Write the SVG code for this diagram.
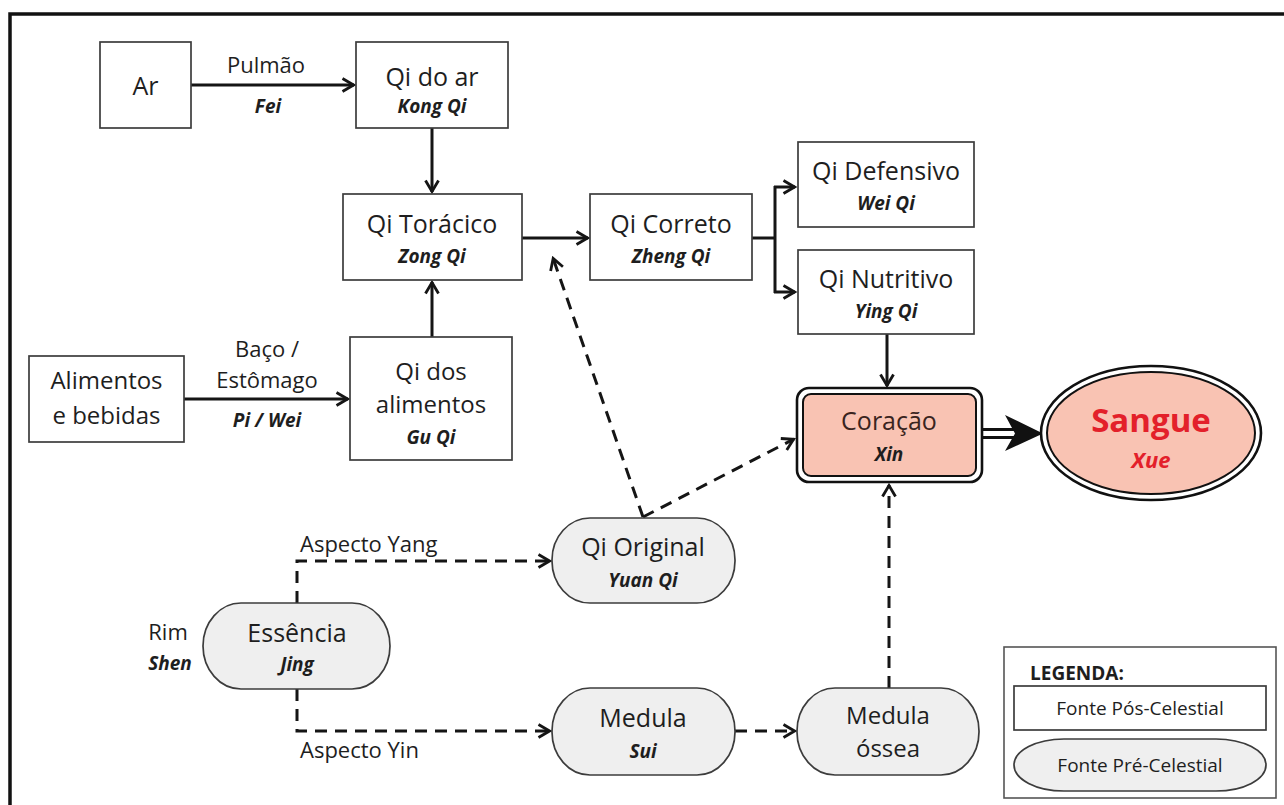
<svg xmlns="http://www.w3.org/2000/svg" width="1284" height="805" viewBox="0 0 1284 805">
<style>
text{font-family:'Open Sans','Liberation Sans',sans-serif;fill:#1e1e1e;text-anchor:middle}
.m{font-size:25px}
.m2{font-size:24px}
.l{font-size:22px}
.s{font-size:19px;font-weight:bold;font-style:italic}
.box{fill:#ffffff;stroke:#3c3c3c;stroke-width:1.7}
.pill{fill:#efefef;stroke:#3c3c3c;stroke-width:1.7}
.c{fill:none;stroke:#151515;stroke-width:3}
.d{fill:none;stroke:#151515;stroke-width:3;stroke-dasharray:12 8}
</style>
<defs>
<marker id="a" viewBox="0 0 16 16" refX="14" refY="8" markerWidth="16" markerHeight="16" markerUnits="userSpaceOnUse" orient="auto">
<path d="M2.5,1.5 L13.5,8 L2.5,14.5" fill="none" stroke="#151515" stroke-width="2.8" stroke-dasharray="none"/>
</marker>
</defs>
<rect width="1284" height="805" fill="#ffffff"/>
<path d="M10,805 V14 H1284" fill="none" stroke="#111" stroke-width="3.5"/>

<g id="connectors">
<path class="c" d="M191,85 H354" marker-end="url(#a)"/>
<path class="c" d="M432,128 V192" marker-end="url(#a)"/>
<path class="c" d="M432,337 V282" marker-end="url(#a)"/>
<path class="c" d="M184,399 H348" marker-end="url(#a)"/>
<path class="c" d="M522,238 H588" marker-end="url(#a)"/>
<path class="c" d="M752,238 H775"/>
<path class="c" d="M775,186 V293"/>
<path class="c" d="M774,187 H795" marker-end="url(#a)"/>
<path class="c" d="M774,292 H795" marker-end="url(#a)"/>
<path class="c" d="M887,334 V386" marker-end="url(#a)"/>
<path class="d" d="M643,517 L553,258" marker-end="url(#a)"/>
<path class="d" d="M643,517 L794,439" marker-end="url(#a)"/>
<path class="d" d="M297,603 V561 H550" marker-end="url(#a)"/>
<path class="d" d="M297,689 V731 H550" marker-end="url(#a)"/>
<path class="d" d="M735,731 H795" marker-end="url(#a)"/>
<path class="d" d="M889,688 V485" marker-end="url(#a)"/>
<path d="M982,429.5 H1014 M982,437.5 H1014" fill="none" stroke="#111" stroke-width="3"/>
<polygon points="1005,415 1043,433.5 1005,451 1015,433.5" fill="#111"/>
</g>

<g id="ar">
<rect class="box" x="100" y="42" width="91" height="86"/>
<text class="m" x="145.5" y="95">Ar</text>
</g>
<g id="label-pulmao">
<text class="l" x="266" y="73">Pulmão</text>
<text class="s" x="268" y="113">Fei</text>
</g>
<g id="qi-do-ar">
<rect class="box" x="356" y="42" width="152" height="86"/>
<text class="m" x="432" y="86">Qi do ar</text>
<text class="s" x="432" y="113">Kong Qi</text>
</g>
<g id="qi-toracico">
<rect class="box" x="343" y="194" width="179" height="86"/>
<text class="m" x="432" y="233">Qi Torácico</text>
<text class="s" x="432" y="263">Zong Qi</text>
</g>
<g id="qi-correto">
<rect class="box" x="590" y="194" width="162" height="86"/>
<text class="m" x="671" y="233">Qi Correto</text>
<text class="s" x="671" y="263">Zheng Qi</text>
</g>
<g id="qi-defensivo">
<rect class="box" x="798" y="142" width="176" height="85"/>
<text class="m" x="886" y="180">Qi Defensivo</text>
<text class="s" x="886" y="210">Wei Qi</text>
</g>
<g id="qi-nutritivo">
<rect class="box" x="798" y="250" width="176" height="84"/>
<text class="m" x="886" y="288">Qi Nutritivo</text>
<text class="s" x="886" y="318">Ying Qi</text>
</g>
<g id="alimentos">
<rect class="box" x="29" y="356" width="155" height="86"/>
<text class="m2" x="106.5" y="389">Alimentos</text>
<text class="m2" x="106.5" y="424">e bebidas</text>
</g>
<g id="label-baco">
<text class="l" x="267" y="357">Baço /</text>
<text class="l" x="267" y="388">Estômago</text>
<text class="s" x="267" y="427">Pi / Wei</text>
</g>
<g id="qi-dos-alimentos">
<rect class="box" x="350" y="337" width="162" height="123"/>
<text class="m2" x="431" y="380">Qi dos</text>
<text class="m2" x="431" y="413">alimentos</text>
<text class="s" x="431" y="444">Gu Qi</text>
</g>
<g id="coracao">
<rect x="797" y="388" width="185" height="94" rx="12" fill="#fff" stroke="#111" stroke-width="2.6"/>
<rect x="803" y="394" width="173" height="82" rx="8" fill="#f9c3b3" stroke="#111" stroke-width="2"/>
<text class="m" x="889" y="430" style="fill:#3a2420">Coração</text>
<text class="s" x="889" y="461">Xin</text>
</g>
<g id="sangue">
<ellipse cx="1151" cy="433" rx="110" ry="67" fill="#fff" stroke="#111" stroke-width="2.6"/>
<ellipse cx="1151" cy="433" rx="104" ry="61" fill="#f9c3b3" stroke="#111" stroke-width="2"/>
<text x="1151" y="432" style="font-size:33px;font-weight:bold;fill:#e3202a">Sangue</text>
<text class="s" x="1151" y="468" style="font-size:22px;fill:#e3202a">Xue</text>
</g>
<g id="qi-original">
<rect class="pill" x="552" y="518" width="183" height="85" rx="38" ry="42"/>
<text class="m" x="643" y="556">Qi Original</text>
<text class="s" x="643" y="587">Yuan Qi</text>
</g>
<g id="label-yang">
<text class="l" x="300" y="552" style="text-anchor:start">Aspecto Yang</text>
</g>
<g id="label-rim">
<text class="l" x="168" y="640">Rim</text>
<text class="s" x="170" y="670">Shen</text>
</g>
<g id="essencia">
<rect class="pill" x="203" y="603" width="187" height="86" rx="38" ry="43"/>
<text class="m" x="297" y="642">Essência</text>
<text class="s" x="297" y="671">Jing</text>
</g>
<g id="label-yin">
<text class="l" x="300" y="758" style="text-anchor:start">Aspecto Yin</text>
</g>
<g id="medula">
<rect class="pill" x="552" y="688" width="183" height="87" rx="38" ry="43"/>
<text class="m" x="643" y="727">Medula</text>
<text class="s" x="643" y="758">Sui</text>
</g>
<g id="medula-ossea">
<rect class="pill" x="797" y="688" width="182" height="87" rx="38" ry="43"/>
<text class="m2" x="888" y="724">Medula</text>
<text class="m2" x="888" y="757">óssea</text>
</g>
<g id="legenda">
<rect x="1004" y="647" width="272" height="151" fill="#fff" stroke="#555" stroke-width="1.6"/>
<text x="1030" y="680" style="text-anchor:start;font-size:19px;font-weight:bold">LEGENDA:</text>
<rect class="box" x="1014" y="686" width="252" height="44"/>
<text x="1140" y="715" style="font-size:19px">Fonte Pós-Celestial</text>
<rect class="pill" x="1014" y="739" width="252" height="52" rx="50" ry="26"/>
<text x="1140" y="772" style="font-size:19px">Fonte Pré-Celestial</text>
</g>
</svg>
